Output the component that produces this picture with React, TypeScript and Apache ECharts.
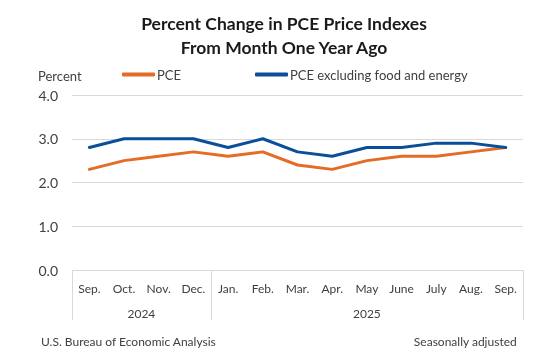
import React, { useEffect, useRef } from "react";
import * as echarts from "echarts";

const months = ["Sep.", "Oct.", "Nov.", "Dec.", "Jan.", "Feb.", "Mar.", "Apr.", "May", "June", "July", "Aug.", "Sep."];
const years = ["2024", "2025"];
const yearCounts = [4, 9];
const pce = [2.3, 2.5, 2.6, 2.7, 2.6, 2.7, 2.4, 2.3, 2.5, 2.6, 2.6, 2.7, 2.8];
const core = [2.8, 3.0, 3.0, 3.0, 2.8, 3.0, 2.7, 2.6, 2.8, 2.8, 2.9, 2.9, 2.8];
const seriesNames = ["PCE", "PCE excluding food and energy"];
const yMin = 0;
const yMax = 4;
const yInterval = 1;

const FONT = "Lato";
const TEXT = "#404040";
const GRIDC = "#d9d9d9";
const ORANGE = "#E46C24";
const BLUE = "#0B4F98";

export default function App() {
  const ref = useRef<HTMLDivElement>(null);
  useEffect(() => {
    if (!ref.current) return;
    const chart = echarts.init(ref.current, undefined, { renderer: "svg" });
    chart.setOption({
      animation: false,
      textStyle: { fontFamily: FONT },
      title: [
        {
          text: "Percent Change in PCE Price Indexes\nFrom Month One Year Ago",
          left: 284,
          top: 11,
          padding: 0,
          textAlign: "center",
          textStyle: { fontFamily: FONT, fontSize: 17.5, fontWeight: "bold", color: "#1a1a1a", lineHeight: 24, align: "center" },
        },
        { text: "Percent", left: 38, top: 69, padding: 0, textStyle: { fontFamily: FONT, fontSize: 13, fontWeight: "normal", color: TEXT } },
        { text: "U.S. Bureau of Economic Analysis", left: 41, top: 335, padding: 0, textStyle: { fontFamily: FONT, fontSize: 12, fontWeight: "normal", color: TEXT } },
        { text: "Seasonally adjusted", right: 43, top: 335, padding: 0, textStyle: { fontFamily: FONT, fontSize: 12, fontWeight: "normal", color: TEXT } },
      ],
      legend: [
        {
          data: [seriesNames[0]], left: 122, top: 68, padding: 0, icon: "roundRect", itemWidth: 33, itemHeight: 4,
          textStyle: { fontFamily: FONT, fontSize: 13, color: TEXT, padding: [0, 0, 0, -3] },
        },
        {
          data: [seriesNames[1]], left: 255, top: 68, padding: 0, icon: "roundRect", itemWidth: 33, itemHeight: 4,
          textStyle: { fontFamily: FONT, fontSize: 13, color: TEXT, padding: [0, 0, 0, -3] },
        },
      ],
      grid: { left: 72, right: 37, top: 95, bottom: 91, containLabel: false },
      xAxis: {
        type: "category",
        data: months,
        boundaryGap: true,
        axisLine: { show: true, lineStyle: { color: GRIDC, width: 1 } },
        axisTick: { show: false },
        axisLabel: { color: TEXT, fontSize: 12, margin: 12, interval: 0, fontFamily: FONT },
      },
      yAxis: {
        type: "value",
        min: yMin,
        max: yMax,
        interval: yInterval,
        axisLine: { show: false },
        axisTick: { show: false },
        axisLabel: { color: TEXT, fontSize: 14, margin: 14, fontFamily: FONT, formatter: (v: number) => v.toFixed(1) },
        splitLine: { show: true, lineStyle: { color: GRIDC, width: 1 } },
      },
      series: [
        { name: seriesNames[0], type: "line", data: pce, symbol: "none", lineStyle: { width: 3, color: ORANGE, cap: "round", join: "round" }, itemStyle: { color: ORANGE } },
        { name: seriesNames[1], type: "line", data: core, symbol: "none", lineStyle: { width: 3, color: BLUE, cap: "round", join: "round" }, itemStyle: { color: BLUE } },
      ],
    });

    const c0 = chart.convertToPixel({ xAxisIndex: 0 }, 0) as number;
    const c1 = chart.convertToPixel({ xAxisIndex: 0 }, 1) as number;
    const bw = c1 - c0;
    const yTop = chart.convertToPixel({ yAxisIndex: 0 }, yMin) as number;
    const graphics: any[] = [];
    let start = 0;
    const bounds = [0];
    yearCounts.forEach((n, i) => {
      const left = c0 - bw / 2 + start * bw;
      const right = left + n * bw;
      bounds.push(start + n);
      graphics.push({
        type: "text",
        x: (left + right) / 2,
        y: yTop + 43,
        style: { text: years[i], fill: TEXT, font: `12px ${FONT}`, textAlign: "center", textVerticalAlign: "middle" },
      });
      start += n;
    });
    bounds.forEach((b) => {
      const x = Math.round(c0 - bw / 2 + b * bw) + 0.5;
      graphics.push({ type: "line", shape: { x1: x, y1: yTop, x2: x, y2: yTop + 50 }, style: { stroke: GRIDC, lineWidth: 1 } });
    });
    chart.setOption({ graphic: graphics });

    return () => chart.dispose();
  }, []);
  return <div ref={ref} style={{ width: 560, height: 361, position: "fixed", left: 0, top: 0 }} />;
}
